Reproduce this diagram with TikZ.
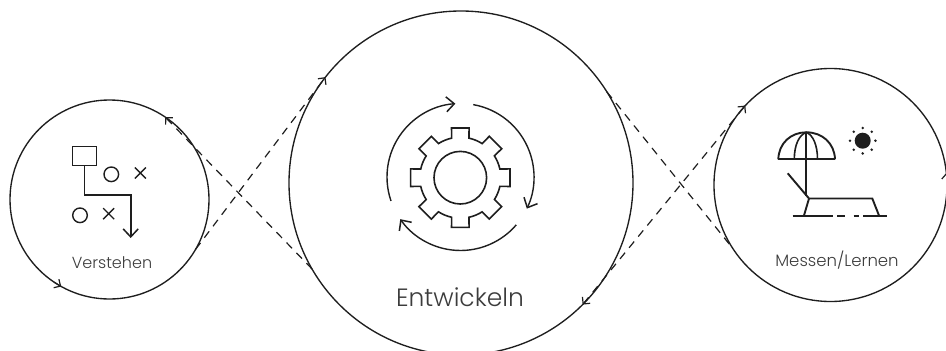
\documentclass[tikz,border=0pt]{standalone}
\usepackage{fontspec}
\setmainfont{Poppins Light}
\usetikzlibrary{arrows.meta}
\definecolor{ink}{HTML}{1E1E1E}
\definecolor{labelink}{HTML}{3C3C3C}
\tikzset{
  ring/.style={draw=ink,circle,line width=1.35pt,inner sep=0pt,outer sep=0pt,minimum size=#1},
  lbl/.style={text=labelink,inner sep=0pt,anchor=base},
  dashlink/.style={draw=ink,line width=1.2pt,dash pattern=on 8pt off 6.4pt},
  head/.style={-{Straight Barb[length=5pt,width=10pt,line width=1.2pt]}},
  twohead/.style={{Straight Barb[length=5pt,width=10pt,line width=1.2pt]}-{Straight Barb[length=5pt,width=10pt,line width=1.2pt]}},
  bighead/.style={-{Straight Barb[length=8pt,width=15pt,line width=1.5pt]}},
  icon/.style={draw=ink,line width=1.6pt},
  heavyicon/.style={draw=ink,line width=1.9pt},
  fineicon/.style={draw=ink,line width=1.4pt},
}
\begin{document}
\begin{tikzpicture}[x=1pt,y=-1pt]
\useasboundingbox (0,0) rectangle (946,351);
\clip (0,0) rectangle (946,351);
% circles
\node[ring=199pt] (left) at (109.5,199.5) {};
\node[ring=344pt] (mid) at (461,183) {};
\node[ring=233pt] (right) at (830.5,185) {};
% dashed connectors
\draw[dashlink,head] (mid.210) -- (left.56);
\draw[dashlink,head] (left.-30) -- (mid.142);
\draw[dashlink] (mid.32.5) -- (right.213);
\draw[dashlink,twohead] (mid.-45) -- (right.137);
% marks on circles
\draw[draw=ink,line width=1.1pt,head] (left.236) -- (left.241.5);
\draw[draw=ink,line width=1.1pt,head] (right.2) -- (right.6);
% left icon
\node[draw=ink,line width=1.5pt,minimum width=24pt,minimum height=19pt,inner sep=0pt,outer sep=0pt] (sq) at (84.7,156.2) {};
\coordinate (bend1) at (84.4,195);
\coordinate (bend2) at (130.7,195);
\coordinate (tip) at (130.7,238);
\draw[icon,bighead] (sq.south -| bend1) -- (bend1) -- (bend2) -- (tip);
\node[ring=14.6pt,line width=1.4pt] (o1) at (111.3,174.3) {};
\node[ring=14.6pt,line width=1.4pt] (o2) at (80,215.3) {};
\draw[fineicon] (134.8,167.5) -- (145.8,178.5) (134.8,178.5) -- (145.8,167.5);
\draw[fineicon] (103.2,208.2) -- (114.2,219.2) (103.2,219.2) -- (114.2,208.2);
% gear
\begin{scope}[shift={(460.3,177.7)}]
\draw[icon,line join=miter] (-10:50.5)
  \foreach \a in {0,45,...,315} {
    -- ({\a-10}:50.5) -- ({\a+10}:50.5) -- ({\a+12.4}:40.5) arc ({\a+12.4}:{\a+32.6}:40.5) -- ({\a+35}:50.5)
  } -- cycle;
\draw[icon] (0,0) circle (26.3);
\end{scope}
% cycle arrows
\begin{scope}[shift={(460.5,177)}]
\draw[fineicon,bighead] (-199:73.5) arc (-199:-94:73.5);
\draw[fineicon,bighead] (-80:73.5) arc (-80:25.5:73.5);
\draw[fineicon,bighead] (40.6:73.5) arc (40.6:145:73.5);
\end{scope}
% parasol
\draw[heavyicon] (778.3,159.3) -- (835,159.3);
\draw[heavyicon] (778.3,159.3) .. controls (778.8,143) and (791,132.3) .. (806.3,132.3) .. controls (822,132.3) and (834.5,143) .. (835,159.3);
\draw[icon] (794.3,159.3) .. controls (794.3,145) and (799,135) .. (806.3,132.3) .. controls (813,135) and (817.5,145) .. (817.5,159.3);
\draw[heavyicon] (806.3,132) -- (806.3,196);
\draw[heavyicon] (787.7,173.3) -- (809,198.5) -- (872.3,198.5) -- (879,215.5);
\draw[heavyicon] (809,198.5) -- (804,215.5);
\draw[heavyicon] (792.7,215.7) -- (832.7,215.7) (837.3,215.7) -- (845,215.7) (853.5,215.7) -- (859,215.7) (863.3,215.7) -- (886.7,215.7);
% sun
\fill[ink] (862.7,140.7) circle (8);
\foreach \a in {0,45,...,315} \fill[ink] (862.7,140.7) ++(\a:12.7) circle (1.4);
% labels
\node[lbl,font=\fontsize{16}{16}\selectfont] (t1) at (112,268) {Verstehen};
\node[lbl,font=\fontsize{16.5}{16}\selectfont] (t3) at (837,266) {Messen/Lernen};
\node[lbl,font=\fontsize{25}{25}\selectfont] (t2) at (460,306) {Entwickeln};
\end{tikzpicture}
\end{document}
